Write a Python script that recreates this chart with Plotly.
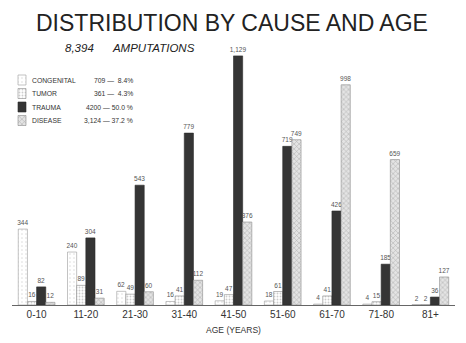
import plotly.graph_objects as go

# Amputations by age group and cause
age_groups = ["0-10", "11-20", "21-30", "31-40", "41-50", "51-60", "61-70", "71-80", "81+"]
congenital = [344, 240, 62, 16, 19, 18, 4, 4, 2]
tumor = [16, 89, 49, 41, 47, 61, 41, 15, 2]
trauma = [82, 304, 543, 779, 1129, 719, 426, 185, 36]
disease = [12, 31, 60, 112, 376, 749, 998, 659, 127]

cause_names = ["CONGENITAL", "TUMOR", "TRAUMA", "DISEASE"]
cause_totals = ["709 \u2014  8.4%", "361 \u2014  4.3%", "4200 \u2014 50.0 %", "3,124 \u2014 37.2 %"]

W, H = 466, 343
ML, MR, MT, MB = 12, 11, 40, 38
FONT = "Liberation Sans"


def px_to_paper(px, py):
    """Convert figure pixel position to paper coordinates."""
    return (px - ML) / (W - ML - MR), (H - MB - py) / (H - MT - MB)


styles = [
    dict(fillcolor="#ffffff", line="#9a9a9a",
         pattern=dict(shape=".", size=4, solidity=0.12, fgcolor="#b0b0b0", bgcolor="#ffffff")),
    dict(fillcolor="#ffffff", line="#8a8a8a",
         pattern=dict(shape=".", size=3, solidity=0.3, fgcolor="#9a9a9a", bgcolor="#ffffff")),
    dict(fillcolor="#353535", line="#2a2a2a", pattern=None),
    dict(fillcolor="#e2e2e2", line="#8a8a8a",
         pattern=dict(shape="x", size=3.5, solidity=0.3, fgcolor="#7a7a7a", bgcolor="#e4e4e4")),
]

fig = go.Figure()
for name, vals, st in zip(cause_names, [congenital, tumor, trauma, disease], styles):
    marker = dict(color=st["fillcolor"], line=dict(color=st["line"], width=0.6))
    if st["pattern"]:
        marker["pattern"] = st["pattern"]
    fig.add_trace(go.Bar(
        x=age_groups, y=vals, name=name, marker=marker,
        text=[f"{v:,}" for v in vals], textposition="outside",
        textfont=dict(family=FONT, size=6.5, color="#555555"),
        constraintext="none", cliponaxis=False, showlegend=False,
        hoverinfo="x+y+name",
    ))

# Key: patterned swatches drawn on an overlay axis in pixel units
row_y = [80, 93.5, 107, 120.5]
for st, yc in zip(styles, row_y):
    x0, x1, y0, y1 = 18, 26, yc - 5, yc + 5
    kw = dict(fillcolor=st["fillcolor"])
    if st["pattern"]:
        p = st["pattern"]
        kw["fillpattern"] = dict(shape=p["shape"], size=p["size"], solidity=p["solidity"],
                                 fgcolor=p["fgcolor"], bgcolor=p["bgcolor"])
    fig.add_trace(go.Scatter(
        x=[x0, x1, x1, x0, x0], y=[y0, y0, y1, y1, y0], mode="lines", fill="toself",
        line=dict(color=st["line"], width=0.6), xaxis="x2", yaxis="y2",
        showlegend=False, hoverinfo="skip", **kw,
    ))

tx, ty = px_to_paper(232, 23)
sx, sy = px_to_paper(63, 48)
annotations = [
    dict(text="DISTRIBUTION BY CAUSE AND AGE", x=tx, y=ty, xref="paper", yref="paper",
         xanchor="center", yanchor="middle",
         showarrow=False, font=dict(family=FONT, size=23, color="#222222")),
    dict(text="<i>8,394" + "\u00a0" * 6 + "AMPUTATIONS</i>", x=sx, y=sy,
         xref="paper", yref="paper", xanchor="left", yanchor="middle",
         showarrow=False, font=dict(family=FONT, size=11.5, color="#222222")),
]
for name, tot, yc in zip(cause_names, cause_totals, row_y):
    nx, ny = px_to_paper(30, yc)
    vx, _ = px_to_paper(135, yc)
    annotations.append(dict(text=name, x=nx, y=ny, xref="paper", yref="paper",
                            xanchor="left", yanchor="middle",
                            showarrow=False, font=dict(family=FONT, size=6.8, color="#333333")))
    annotations.append(dict(text=tot, x=vx, y=ny, xref="paper", yref="paper",
                            xanchor="right", yanchor="middle",
                            showarrow=False, font=dict(family=FONT, size=6.8, color="#333333")))

fig.update_layout(
    width=W, height=H,
    margin=dict(l=ML, r=MR, t=MT, b=MB),
    paper_bgcolor="white", plot_bgcolor="white",
    barmode="group", bargap=0.255, bargroupgap=0,
    xaxis=dict(showline=True, linecolor="#666666", linewidth=1, ticks="",
               tickfont=dict(family=FONT, size=10, color="#333333"),
               title=dict(text="AGE (YEARS)", font=dict(family=FONT, size=8.5, color="#333333"),
                          standoff=8),
               automargin=False,
               showgrid=False, zeroline=False, fixedrange=True),
    yaxis=dict(range=[0, 1201], visible=False, showgrid=False, zeroline=False, fixedrange=True),
    xaxis2=dict(range=[ML, W - MR], overlaying="x", visible=False, fixedrange=True),
    yaxis2=dict(range=[H - MB, MT], overlaying="y", visible=False, fixedrange=True),
    annotations=annotations,
    showlegend=False,
)

fig.write_html("out.html")
